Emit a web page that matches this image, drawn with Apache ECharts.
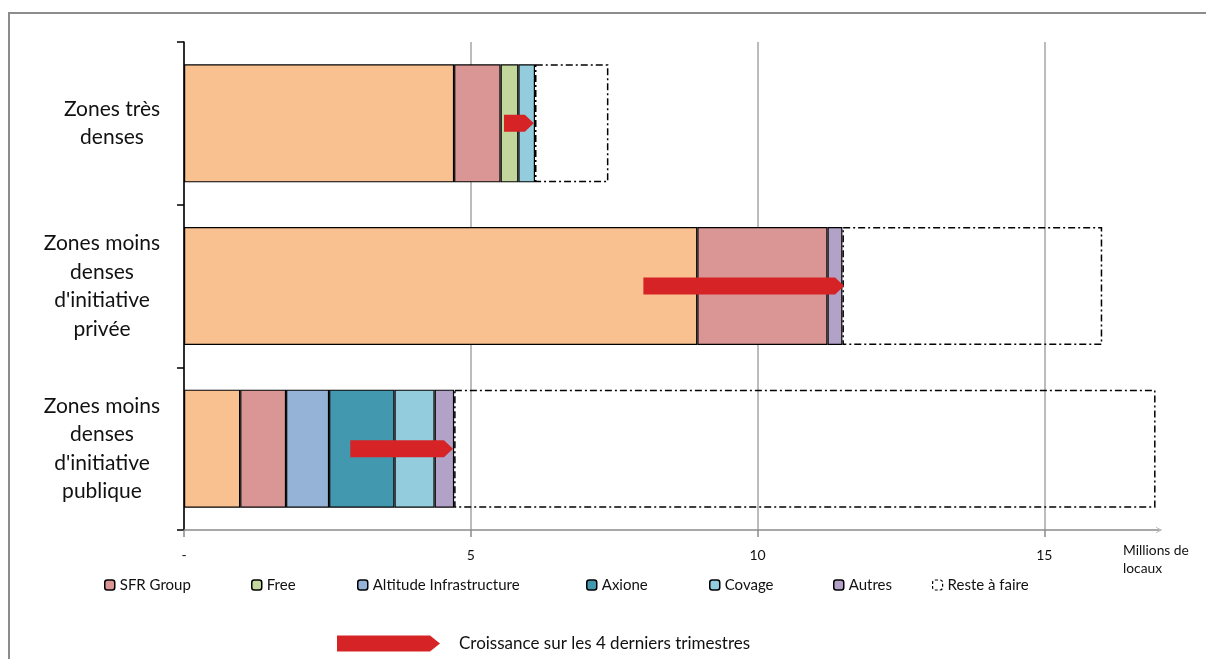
<!DOCTYPE html>
<html>
<head>
<meta charset="utf-8">
<script src="https://cdn.jsdelivr.net/npm/echarts@6/dist/echarts.min.js"></script>
<style>html,body{margin:0;padding:0;background:#fff;}#c{width:1206px;height:659px;}</style>
</head>
<body>
<div id="c"></div>
<script>
const categories = ["Zones très\ndenses", "Zones moins\ndenses\nd'initiative\nprivée", "Zones moins\ndenses\nd'initiative\npublique"];
const orange   = [4.71, 8.95, 0.98];
const sfr      = [0.81, 2.27, 0.80];
const free     = [0.31, null, null];
const altitude = [null, null, 0.75];
const axione   = [null, null, 1.14];
const covage   = [0.29, null, 0.70];
const autres   = [null, 0.26, 0.34];
const reste    = [1.28, 4.53, 12.23];
const growthStart = [5.58, 8.01, 2.90];
const growthEnd   = [6.10, 11.51, 4.69];
const xTicks = [0, 5, 10, 15];

const FONT = 'Lato';
const GRID_GREY = '#a6a6a6';
const chart = echarts.init(document.getElementById('c'), null, {renderer: 'canvas'});

function barSeries(name, data, color, extra) {
  return Object.assign({
    name: name, type: 'bar', stack: 'total', data: data, barWidth: 118,
    itemStyle: {color: color, borderColor: '#000', borderWidth: 1.2},
    emphasis: {disabled: true}
  }, extra || {});
}

const growthData = categories.map((c, i) => [i, growthStart[i], growthEnd[i]]);

const legendDefs = [
  ['SFR Group', 104], ['Free', 251], ['Altitude Infrastructure', 357],
  ['Axione', 586], ['Covage', 709], ['Autres', 833], ['Reste à faire', 932]
];
const legends = legendDefs.map(d => ({
  data: [d[0]], left: d[1], top: 577, padding: 0, itemWidth: 10, itemHeight: 10,
  selectedMode: false, itemGap: 0,
  itemStyle: d[0] === 'Reste à faire'
    ? {borderColor: '#000', borderWidth: 1.2, borderType: [3, 2]}
    : {borderColor: '#000', borderWidth: 1.5},
  textStyle: {fontFamily: FONT, fontSize: 15, color: '#111', lineHeight: 16}
}));
legends.push({
  data: [{name: 'Croissance sur les 4 derniers trimestres',
          icon: 'path://M0,0 L93,0 L103,8 L93,16 L0,16 Z'}],
  left: 337, top: 635, padding: 0, itemWidth: 103, itemHeight: 16, selectedMode: false,
  textStyle: {fontFamily: FONT, fontSize: 17, color: '#111', padding: [0, 0, 0, 14]}
});

const option = {
  animation: false,
  backgroundColor: '#fff',
  grid: {left: 184, right: 47, top: 42, bottom: 129, containLabel: false},
  legend: legends,
  xAxis: {
    type: 'value', min: 0, max: 17, interval: 5,
    name: 'Millions de\nlocaux', nameLocation: 'end', nameGap: -36,
    nameTextStyle: {fontFamily: FONT, fontSize: 13.8, color: '#111', align: 'left',
                    verticalAlign: 'top', lineHeight: 18, padding: [12, 0, 0, 0]},
    axisLine: {show: true, lineStyle: {color: '#8c8c8c', width: 1.5},
               symbol: ['none', 'path://M0,10 L5,0 L10,10 L9,10 L5,2 L1,10 Z'], symbolSize: [9, 6]},
    axisTick: {show: true, length: 7, lineStyle: {color: '#8c8c8c', width: 1.5}, customValues: xTicks},
    axisLabel: {fontFamily: FONT, fontSize: 14, color: '#111', margin: 18,
                formatter: v => v === 0 ? '-' : (xTicks.indexOf(v) >= 0 ? String(v) : '')},
    splitLine: {show: true, lineStyle: {
      color: [GRID_GREY, GRID_GREY, GRID_GREY, GRID_GREY, 'rgba(0,0,0,0)'], width: 1.5}}
  },
  yAxis: {
    type: 'category', data: categories, inverse: true,
    axisLine: {show: true, lineStyle: {color: '#000', width: 1.5}},
    axisTick: {show: true, length: 7, lineStyle: {color: '#000', width: 1.5}},
    axisLabel: {fontFamily: FONT, fontSize: 21, color: '#111', align: 'center', margin: 82, lineHeight: 28.5,
                formatter: (v, i) => i === 0 ? '{a|' + v + '}' : v,
                rich: {a: {fontFamily: FONT, fontSize: 21, color: '#111', lineHeight: 28.5, padding: [0, 0, 0, 20], align: 'center'}}},
    splitLine: {show: false}
  },
  series: [
    barSeries('Orange', orange, '#F9C090'),
    barSeries('SFR Group', sfr, '#D99694'),
    barSeries('Free', free, '#C3D69B'),
    barSeries('Altitude Infrastructure', altitude, '#95B3D7'),
    barSeries('Axione', axione, '#4299AF'),
    barSeries('Covage', covage, '#93CDDD'),
    barSeries('Autres', autres, '#B2A2C7'),
    barSeries('Reste à faire', reste, 'rgba(255,255,255,0)', {
      itemStyle: {color: 'rgba(255,255,255,0)', borderColor: '#000', borderWidth: 1.5,
                  borderType: [7, 3, 2, 3]}
    }),
    {
      name: 'Croissance sur les 4 derniers trimestres', type: 'custom', z: 10,
      itemStyle: {color: '#D62426'},
      encode: {x: [1, 2], y: 0},
      data: growthData,
      renderItem: function (params, api) {
        const cat = api.value(0);
        const p0 = api.coord([api.value(1), cat]);
        const p1 = api.coord([api.value(2), cat]);
        const h = 8.5, head = 9;
        return {
          type: 'polygon',
          shape: {points: [
            [p0[0], p0[1] - h], [p1[0] - head, p0[1] - h], [p1[0], p0[1]],
            [p1[0] - head, p0[1] + h], [p0[0], p0[1] + h]
          ]},
          style: {fill: '#D62426'}
        };
      }
    }
  ],
  graphic: [{
    type: 'polyline', silent: true, z: 100,
    shape: {points: [[9, 659], [9, 13], [1206, 13]]},
    style: {stroke: '#8c8c8c', lineWidth: 2, fill: null}
  }]
};
chart.setOption(option);
</script>
</body>
</html>
